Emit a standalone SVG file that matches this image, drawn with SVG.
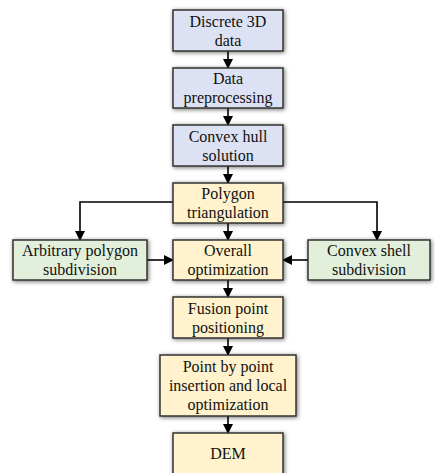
<svg xmlns="http://www.w3.org/2000/svg" width="435" height="473" viewBox="0 0 435 473">
<defs>
<filter id="sh" x="-20%" y="-30%" width="140%" height="160%">
<feDropShadow dx="1" dy="1" stdDeviation="2.2" flood-color="#000" flood-opacity="0.55"/>
</filter>
<marker id="ah" markerWidth="10" markerHeight="10" refX="9" refY="5" orient="auto" markerUnits="userSpaceOnUse">
<path d="M0,0 L10,5 L0,10 Z" fill="#000"/>
</marker>
<style>
.box{stroke:#333;stroke-width:1.5;filter:url(#sh)}
.b{fill:#dce1f3}
.y{fill:#fff2cc}
.g{fill:#e2efda}
.c{fill:none;stroke:#000;stroke-width:1.6;marker-end:url(#ah)}
</style>
</defs>
<g id="connectors">
<path class="c" d="M228,51 V68"/>
<path class="c" d="M228,108 V125"/>
<path class="c" d="M228,166 V183"/>
<path class="c" d="M173,202 H80 V240"/>
<path class="c" d="M283,202 H377 V240"/>
<path class="c" d="M228,223 V240"/>
<path class="c" d="M147,260 H173"/>
<path class="c" d="M308,260 H283"/>
<path class="c" d="M228,280 V297"/>
<path class="c" d="M228,338 V355"/>
<path class="c" d="M228,416 V433"/>
</g>
<g font-family="Liberation Serif, Times New Roman, serif" font-size="16" fill="#111" text-anchor="middle">
<g id="n1"><rect class="box b" x="173" y="10" width="110" height="41"/><text x="228" y="27">Discrete 3D</text><text x="228" y="46">data</text></g>
<g id="n2"><rect class="box b" x="173" y="68" width="110" height="40"/><text x="228" y="84">Data</text><text x="228" y="103">preprocessing</text></g>
<g id="n3"><rect class="box b" x="173" y="125" width="110" height="41"/><text x="228" y="142">Convex hull</text><text x="228" y="161">solution</text></g>
<g id="n4"><rect class="box y" x="173" y="183" width="110" height="40"/><text x="228" y="199">Polygon</text><text x="228" y="218">triangulation</text></g>
<g id="n5"><rect class="box g" x="13" y="240" width="134" height="40"/><text x="80" y="256">Arbitrary polygon</text><text x="80" y="275">subdivision</text></g>
<g id="n6"><rect class="box y" x="173" y="240" width="110" height="40"/><text x="228" y="256">Overall</text><text x="228" y="275">optimization</text></g>
<g id="n7"><rect class="box g" x="308" y="240" width="122" height="40"/><text x="369" y="256">Convex shell</text><text x="369" y="275">subdivision</text></g>
<g id="n8"><rect class="box y" x="173" y="297" width="110" height="41"/><text x="228" y="314">Fusion point</text><text x="228" y="333">positioning</text></g>
<g id="n9"><rect class="box y" x="160" y="355" width="136" height="61"/><text x="228" y="372">Point by point</text><text x="228" y="391">insertion and local</text><text x="228" y="410">optimization</text></g>
<g id="n10"><rect class="box y" x="173" y="433" width="110" height="45"/><text x="228" y="459">DEM</text></g>
</g>
</svg>
